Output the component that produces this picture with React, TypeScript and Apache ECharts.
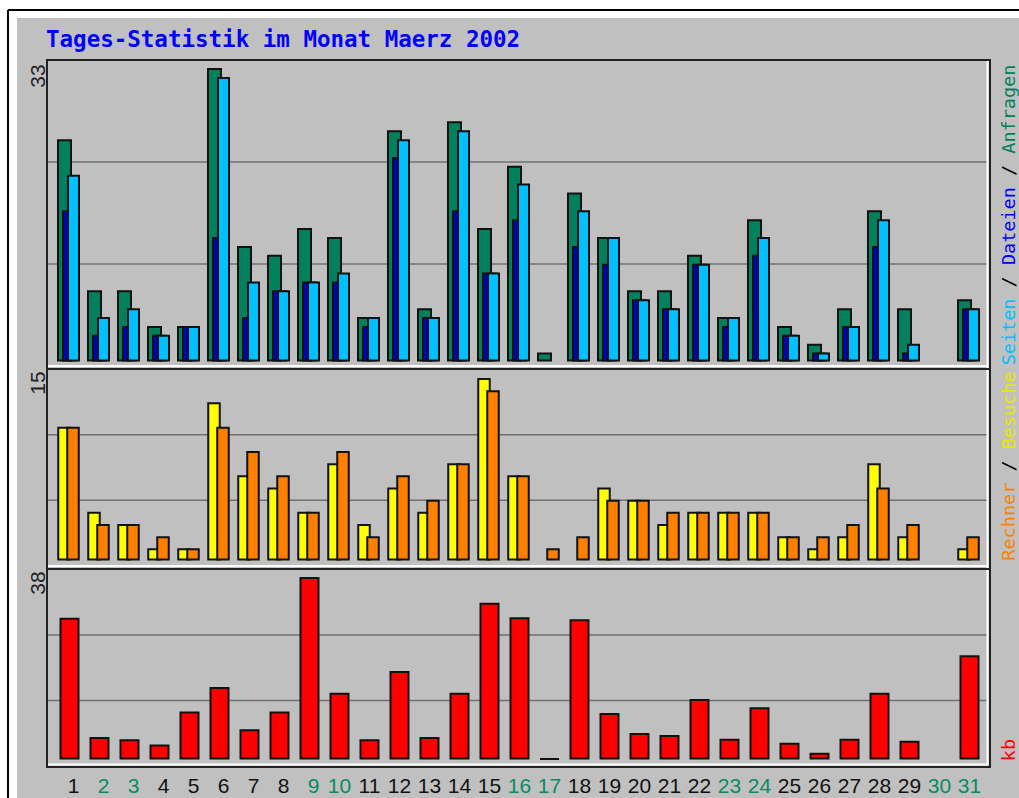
import React, { useEffect, useRef } from "react";
import * as echarts from "echarts";

const days = ["1","2","3","4","5","6","7","8","9","10","11","12","13","14","15","16","17","18","19","20","21","22","23","24","25","26","27","28","29","30","31"];
const weekendDays = ["2","3","9","10","16","17","23","24","30","31"];

const anfragen = [25,8,8,4,4,33,13,12,15,14,5,26,6,27,15,22,1,19,14,8,8,12,5,16,4,2,6,17,6,null,7];
const dateien = [17,3,4,3,4,14,5,8,9,9,4,23,5,17,10,16,null,13,11,7,6,11,4,12,3,1,4,13,1,null,6];
const seiten = [21,5,6,3,4,32,9,8,9,10,5,25,5,26,10,20,null,17,14,7,6,11,5,14,3,1,4,16,2,null,6];

const besuche = [11,4,3,1,1,13,7,6,4,8,3,6,4,8,15,7,null,null,6,5,3,4,4,4,2,1,2,8,2,null,1];
const rechner = [11,3,3,2,1,11,9,7,4,9,2,7,5,8,14,7,1,2,5,5,4,4,4,4,2,2,3,6,3,null,2];

const kb = [29.5,4.7,4.2,3.1,10.0,15.1,6.3,10.0,38.0,13.9,4.2,18.4,4.7,13.9,32.6,29.6,0.2,29.2,9.7,5.5,5.1,12.6,4.3,10.9,3.5,1.4,4.3,13.9,3.9,null,21.7];

const panelMaxLabels = ["33", "15", "38"];

const MONO = "'DejaVu Sans Mono', 'Liberation Mono', monospace";
const SANS = "'Liberation Sans', Arial, sans-serif";

const C_GREEN = "#00805C";
const C_FILE = "#0000CC";
const C_PAGE = "#00C0FF";
const C_VISIT = "#FFFF00";
const C_SITE = "#FF8000";
const C_KB = "#FF0000";
const C_WEEKEND = "#0a8a62";

export default function App() {
  const ref = useRef<HTMLDivElement>(null);

  useEffect(() => {
    if (!ref.current) return;
    const chart = echarts.init(ref.current, null, { renderer: "svg" });

    const dark = "#222222";
    const line = (x1: number, y1: number, x2: number, y2: number, stroke: string, lw: number, z: number) => ({
      type: "line",
      z,
      silent: true,
      shape: { x1, y1, x2, y2 },
      style: { stroke, lineWidth: lw },
    });

    const gridY = [162, 264, 434.7, 500.3, 635, 700.5];
    const graphics: any[] = [
      { type: "rect", z: 0, silent: true, shape: { x: 17, y: 18, width: 1002, height: 780 }, style: { fill: "#C0C0C0" } },
      line(8, 10, 1019, 10, "#000", 2, 3),
      line(8, 10, 8, 798, "#000", 2, 3),
      ...gridY.map((y) => line(48, y, 987, y, "#707070", 1.5, 1)),
      // panel frames
      line(47, 60, 990, 60, dark, 2, 5),
      line(47, 369, 990, 369, dark, 2, 5),
      line(47, 569, 990, 569, dark, 2, 5),
      line(47, 767, 991, 767, dark, 2, 5),
      line(47, 59, 47, 768, dark, 2, 5),
      line(990, 59, 990, 768, dark, 2, 5),
      line(48, 366, 988, 366, "#ffffff", 2, 4),
      line(48, 566, 988, 566, "#ffffff", 2, 4),
      line(48, 764.5, 988, 764.5, "#ffffff", 2, 4),
      line(987.5, 61, 987.5, 765, "#ffffff", 2, 4),
      // max labels at left
      ...panelMaxLabels.map((t, i) => ({
        type: "text",
        z: 6,
        x: 37,
        y: [76, 383, 583][i],
        rotation: Math.PI / 2,
        style: { text: t, font: `21px ${SANS}`, fill: "#222", align: "center", verticalAlign: "middle" },
      })),
      // right legends
      {
        type: "text",
        z: 6,
        x: 1008,
        y: 215,
        rotation: Math.PI / 2,
        style: {
          text: "{p|Seiten}{k| / }{f|Dateien}{k| / }{h|Anfragen}",
          font: `18.5px ${MONO}`,
          align: "center",
          verticalAlign: "middle",
          rich: {
            p: { fill: C_PAGE, font: `18.5px ${MONO}` },
            k: { fill: "#000", font: `18.5px ${MONO}` },
            f: { fill: "#0000FF", font: `18.5px ${MONO}` },
            h: { fill: C_GREEN, font: `18.5px ${MONO}` },
          },
        },
      },
      {
        type: "text",
        z: 6,
        x: 1008,
        y: 466,
        rotation: Math.PI / 2,
        style: {
          text: "{s|Rechner}{k| / }{v|Besuche}",
          font: `18.5px ${MONO}`,
          align: "center",
          verticalAlign: "middle",
          rich: {
            s: { fill: C_SITE, font: `18.5px ${MONO}` },
            k: { fill: "#000", font: `18.5px ${MONO}` },
            v: { fill: "#E8E800", font: `18.5px ${MONO}` },
          },
        },
      },
      {
        type: "text",
        z: 6,
        x: 1008,
        y: 750,
        rotation: Math.PI / 2,
        style: { text: "kb", font: `18.5px ${MONO}`, fill: C_KB, align: "center", verticalAlign: "middle" },
      },
      {
        type: "text",
        z: 6,
        x: 46,
        y: 39,
        style: {
          text: "Tages-Statistik im Monat Maerz 2002",
          font: `bold 22.5px ${MONO}`,
          fill: "#0000FF",
          align: "left",
          verticalAlign: "middle",
        },
      },
    ];

    const hiddenX = (gridIndex: number, showLabels: boolean) => ({
      type: "category",
      gridIndex,
      data: days,
      axisLine: { show: false },
      axisTick: { show: false },
      splitLine: { show: false },
      axisLabel: showLabels
        ? {
            show: true,
            interval: 0,
            margin: 26,
            verticalAlign: "middle",
            formatter: (v: string) => {
              const we = weekendDays.includes(v);
              const single = v.length === 1;
              return `{${we ? "w" : "d"}${single ? "s" : ""}|${v}}`;
            },
            rich: {
              d: { color: "#111", fontSize: 21, fontFamily: SANS },
              ds: { color: "#111", fontSize: 21, fontFamily: SANS, padding: [0, 0, 0, 8] },
              w: { color: C_WEEKEND, fontSize: 21, fontFamily: SANS },
              ws: { color: C_WEEKEND, fontSize: 21, fontFamily: SANS, padding: [0, 0, 0, 8] },
            },
          }
        : { show: false },
    });

    const hiddenY = (gridIndex: number, max: number) => ({
      type: "value",
      gridIndex,
      min: 0,
      max,
      axisLine: { show: false },
      axisTick: { show: false },
      axisLabel: { show: false },
      splitLine: { show: false },
    });

    const border = { borderColor: "#111", borderWidth: 2 };

    chart.setOption({
      animation: false,
      graphic: graphics,
      grid: [
        { left: 53.5, width: 930, top: 60, height: 301.5 },
        { left: 53.5, width: 930, top: 369, height: 191.5 },
        { left: 54.5, width: 930, top: 569, height: 190.5 },
      ],
      xAxis: [hiddenX(0, false), hiddenX(1, false), hiddenX(2, true)],
      yAxis: [hiddenY(0, 33.9), hiddenY(1, 15.74), hiddenY(2, 39.65)],
      series: [
        { name: "Anfragen", type: "bar", xAxisIndex: 0, yAxisIndex: 0, data: anfragen, barWidth: 15, barGap: "-66.67%", itemStyle: { color: C_GREEN, ...border } },
        { name: "Dateien", type: "bar", xAxisIndex: 0, yAxisIndex: 0, data: dateien, barWidth: 15, barGap: "-66.67%", itemStyle: { color: C_FILE, ...border } },
        { name: "Seiten", type: "bar", xAxisIndex: 0, yAxisIndex: 0, data: seiten, barWidth: 13, barGap: "-66.67%", itemStyle: { color: C_PAGE, ...border } },
        { name: "Besuche", type: "bar", xAxisIndex: 1, yAxisIndex: 1, data: besuche, barWidth: 13.5, barGap: "-33.33%", itemStyle: { color: C_VISIT, ...border } },
        { name: "Rechner", type: "bar", xAxisIndex: 1, yAxisIndex: 1, data: rechner, barWidth: 13.5, barGap: "-33.33%", itemStyle: { color: C_SITE, ...border } },
        { name: "kb", type: "bar", xAxisIndex: 2, yAxisIndex: 2, data: kb, barWidth: 20, itemStyle: { color: C_KB, ...border } },
      ],
    });

    return () => chart.dispose();
  }, []);

  return <div ref={ref} style={{ position: "absolute", left: 0, top: 0, width: 1019, height: 798 }} />;
}
